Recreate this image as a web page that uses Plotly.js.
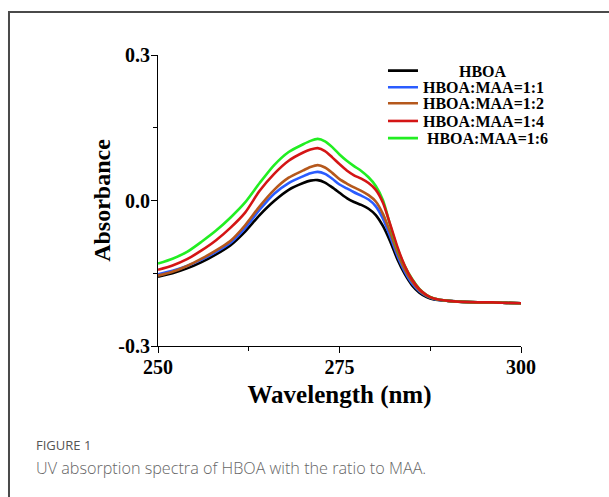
<!DOCTYPE html>
<html>
<head>
<meta charset="utf-8">
<script src="https://cdn.plot.ly/plotly-3.0.1.min.js"></script>
<style>
html,body{margin:0;padding:0;background:#fff;}
#chart{width:609px;height:497px;}
</style>
</head>
<body>
<div id="chart"></div>
<script>
// Wavelength grid (nm)
const wavelength = [250,252,254,256,258,260,262,264,266,268,270,271,272,273,274,275,276,277,278,279,280,281,282,283,284,285,286,287,288,290,292,294,296,298,300];

const seriesNames = ["HBOA","HBOA:MAA=1:1","HBOA:MAA=1:2","HBOA:MAA=1:4","HBOA:MAA=1:6"];

const hboa    = [-0.157,-0.150,-0.140,-0.127,-0.111,-0.092,-0.064,-0.030,-0.001,0.022,0.036,0.041,0.042,0.037,0.027,0.016,0.005,-0.003,-0.009,-0.017,-0.030,-0.053,-0.085,-0.122,-0.152,-0.175,-0.190,-0.199,-0.204,-0.207,-0.209,-0.210,-0.210,-0.211,-0.212];
const ratio11 = [-0.152,-0.145,-0.135,-0.122,-0.106,-0.087,-0.057,-0.019,0.014,0.036,0.050,0.056,0.059,0.055,0.045,0.033,0.025,0.017,0.010,0.002,-0.012,-0.038,-0.075,-0.115,-0.147,-0.171,-0.187,-0.197,-0.203,-0.207,-0.209,-0.210,-0.210,-0.211,-0.212];
const ratio12 = [-0.155,-0.147,-0.135,-0.120,-0.103,-0.083,-0.051,-0.012,0.022,0.047,0.062,0.069,0.073,0.068,0.057,0.044,0.035,0.027,0.020,0.011,-0.002,-0.028,-0.066,-0.108,-0.142,-0.167,-0.185,-0.196,-0.202,-0.207,-0.209,-0.210,-0.210,-0.211,-0.212];
const ratio14 = [-0.143,-0.134,-0.121,-0.103,-0.082,-0.056,-0.025,0.020,0.055,0.082,0.099,0.105,0.108,0.102,0.089,0.075,0.062,0.052,0.045,0.036,0.022,-0.005,-0.050,-0.097,-0.135,-0.163,-0.183,-0.195,-0.202,-0.207,-0.209,-0.210,-0.210,-0.211,-0.212];
const ratio16 = [-0.130,-0.120,-0.106,-0.085,-0.062,-0.035,-0.004,0.036,0.073,0.100,0.116,0.123,0.127,0.122,0.110,0.095,0.082,0.071,0.061,0.048,0.030,0.000,-0.052,-0.100,-0.135,-0.162,-0.182,-0.195,-0.202,-0.207,-0.209,-0.210,-0.210,-0.211,-0.212];

const yTickVals = [-0.3, 0.0, 0.3];
const yTickText = ["-0.3", "0.0", "0.3"];
const xTickVals = [250, 275, 300];

const seriesValues = [hboa, ratio11, ratio12, ratio14, ratio16];
const colors = ["#000000", "#2a5cff", "#b5581c", "#d41515", "#22ee22"];
const legendLabels = ["\u00a0\u00a0\u00a0\u00a0\u00a0\u00a0\u00a0\u00a0\u00a0HBOA", "HBOA:MAA=1:1", "HBOA:MAA=1:2", "HBOA:MAA=1:4", "\u00a0HBOA:MAA=1:6"];
const legendIds = ["legend", "legend2", "legend3", "legend4", "legend5"];
const legendY = [0.946, 0.889, 0.834, 0.773, 0.714];
const drawOrder = [0, 1, 2, 4, 3];

const traces = drawOrder.map(i => ({
  x: wavelength,
  y: seriesValues[i],
  name: legendLabels[i],
  type: "scatter",
  mode: "lines",
  line: {color: colors[i], width: 2.6, shape: "spline", smoothing: 0.7},
  legend: legendIds[i]
}));

const fontSerif = "Liberation Serif, Times New Roman, serif";

const layout = {
  width: 609,
  height: 497,
  margin: {l: 158, r: 88, t: 55, b: 151},
  paper_bgcolor: "#ffffff",
  plot_bgcolor: "#ffffff",
  showlegend: true,
  xaxis: {
    range: [250, 300],
    tickvals: xTickVals,
    ticks: "outside", ticklen: 6, tickwidth: 1, tickcolor: "#000",
    showline: true, linecolor: "#000", linewidth: 1,
    showgrid: false, zeroline: false,
    tickfont: {family: fontSerif, size: 20, color: "#000", weight: "bold"},
    ticklabelstandoff: -3,
    minor: {dtick: 12.5, ticks: "outside", ticklen: 4, tickcolor: "#000", showgrid: false},
    title: {text: "Wavelength (nm)", font: {family: fontSerif, size: 25, color: "#000", weight: "bold"}, standoff: 8}
  },
  yaxis: {
    range: [-0.3, 0.3],
    tickvals: yTickVals,
    ticktext: yTickText,
    ticks: "outside", ticklen: 6, tickwidth: 1, tickcolor: "#000",
    showline: true, linecolor: "#000", linewidth: 1,
    showgrid: false, zeroline: false,
    tickfont: {family: fontSerif, size: 20, color: "#000", weight: "bold"},
    ticklabelstandoff: -3,
    minor: {dtick: 0.15, ticks: "outside", ticklen: 4, tickcolor: "#000", showgrid: false},
    title: {text: "Absorbance", font: {family: fontSerif, size: 24, color: "#000", weight: "bold"}, standoff: 0}
  },
  shapes: [{
    type: "rect", xref: "paper", yref: "paper",
    x0: -0.4105, x1: 1.30, y0: -0.60, y1: 1.1478,
    line: {color: "#4a4a4a", width: 2},
    fillcolor: "rgba(0,0,0,0)",
    layer: "below"
  }],
  annotations: [
    {text: "FIGURE 1", xref: "paper", yref: "paper", x: -0.342, y: -0.340,
     xanchor: "left", yanchor: "middle", showarrow: false,
     font: {family: "Open Sans, Noto Sans, sans-serif", size: 13, color: "#555555", weight: 500}},
    {text: "UV absorption spectra of HBOA with the ratio to MAA.", xref: "paper", yref: "paper",
     x: -0.342, y: -0.419, xanchor: "left", yanchor: "middle", showarrow: false,
     font: {family: "Open Sans, Noto Sans, sans-serif", size: 16.2, color: "#666666", weight: 300}}
  ]
};

legendIds.forEach((id, k) => {
  layout[id] = {
    x: 0.6198, y: legendY[k], xanchor: "left", yanchor: "middle",
    bgcolor: "rgba(0,0,0,0)",
    font: {family: fontSerif, size: 16, color: "#000", weight: "bold"},
    itemwidth: 30
  };
});

Plotly.newPlot("chart", traces, layout, {displayModeBar: false, staticPlot: true});
</script>
</body>
</html>
